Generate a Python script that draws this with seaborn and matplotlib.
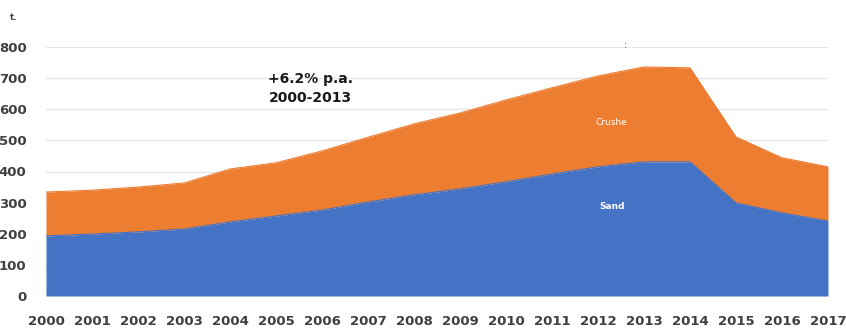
import matplotlib
matplotlib.use("Agg")
import matplotlib.pyplot as plt
import seaborn as sns
import pandas as pd

years = list(range(2000, 2018))
sand = [193, 199, 206, 215, 238, 257, 276, 302, 325, 344, 367, 392, 415, 431, 431, 299, 267, 241]
total = [334, 340, 350, 363, 408, 428, 466, 510, 553, 588, 630, 669, 707, 736, 733, 511, 444, 415]
crushed = [t - s for t, s in zip(total, sand)]
y_ticks = [0, 100, 200, 300, 400, 500, 600, 700, 800]

df = pd.DataFrame({"year": years, "Sand": sand, "Crushed": crushed})
df["Top"] = df["Sand"] + df["Crushed"]

sns.set_theme(style="white")
plt.rcParams['font.family'] = ['DejaVu Sans']

fig = plt.figure(figsize=(8.46, 3.29), dpi=100)
ax = fig.add_axes([46/846, 1-296/329, (828-46)/846, (296-47)/329])

blue = "#4472C4"
orange = "#ED7D31"
ax.fill_between(df["year"], 0, df["Sand"], color=blue, linewidth=0, zorder=2)
ax.fill_between(df["year"], df["Sand"], df["Top"], color=orange, linewidth=0, zorder=2)
sns.lineplot(data=df, x="year", y="Sand", ax=ax, color=blue, linewidth=0.8, zorder=3)
sns.lineplot(data=df, x="year", y="Top", ax=ax, color=orange, linewidth=0.8, zorder=3)

ax.set_xlim(2000, 2017)
ax.set_ylim(0, 800)
ax.set_xticks(years)
ax.set_xticklabels([str(y) for y in years])
ax.set_yticks(y_ticks)
ax.set_yticklabels([str(v) for v in y_ticks])
ax.yaxis.grid(True, color="#e6e6e6", linewidth=1, zorder=0)
ax.set_axisbelow(True)
for s in ax.spines.values():
    s.set_visible(False)
ax.set_xlabel("")
ax.set_ylabel("")
ax.tick_params(axis="both", length=0, labelsize=9.5, labelcolor="#404040")
ax.tick_params(axis="x", pad=14)
ax.tick_params(axis="y", pad=14)
for lbl in ax.get_xticklabels() + ax.get_yticklabels():
    lbl.set_fontweight("bold")

ax.text(2005.74, 666, "+6.2% p.a.\n2000-2013", ha="center", va="center",
        fontsize=10, fontweight="bold", color="#1a1a1a", linespacing=1.5)
ax.text(2012.3, 559, "Crushe", ha="center", va="center", fontsize=6.5, color="white")
ax.text(2012.3, 286, "Sand", ha="center", va="center", fontsize=6.5, color="white", fontweight="bold")
fig.text(10/846, 1-17/329, "t.", fontsize=6, color="#404040", fontweight="bold", ha="left", va="center")
fig.text(625/846, 1-45/329, ":", fontsize=7, color="#404040", ha="center", va="center")

fig.savefig("out.png", dpi=100)
